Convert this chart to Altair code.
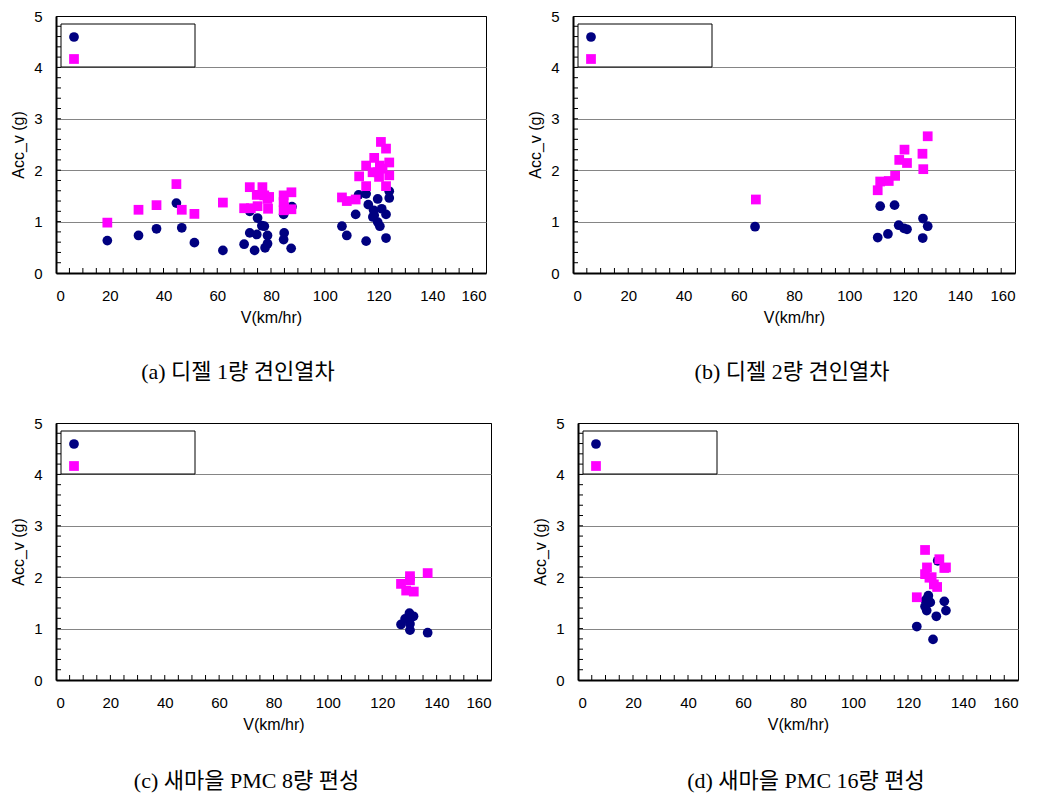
import altair as alt
import pandas as pd

# ---------------- data ----------------
A_circ_v = [19.1, 30.7, 37.4, 44.8, 46.8, 51.5, 62.1, 70.0, 72.1, 72.1, 73.9, 74.7, 75.0, 76.6, 77.5,
            77.8, 78.7, 78.7, 84.7, 84.7, 84.9, 87.5, 87.8, 106.4, 108.2, 111.5, 112.6, 115.4, 115.4,
            116.2, 117.9, 118.2, 118.4, 119.7, 119.7, 120.5, 121.2, 122.8, 122.8, 124.0, 124.0]
A_circ_a = [0.63, 0.73, 0.86, 1.36, 0.88, 0.59, 0.44, 0.56, 0.78, 1.20, 0.44, 0.75, 1.07, 0.92, 0.91,
            0.49, 0.57, 0.73, 1.14, 0.65, 0.78, 0.48, 1.29, 0.91, 0.73, 1.14, 1.52, 0.62, 1.54,
            1.33, 1.09, 1.22, 1.12, 1.44, 0.99, 0.91, 1.25, 0.68, 1.14, 1.59, 1.46]
A_sq_v = [19.1, 30.7, 37.4, 44.8, 46.8, 51.5, 62.1, 70.0, 72.1, 72.5, 74.7, 75.0, 76.8, 77.5, 78.7,
          78.9, 79.3, 84.7, 84.7, 84.9, 84.7, 87.6, 87.6, 106.4, 108.2, 111.5, 112.8, 115.4, 115.4,
          118.4, 117.8, 119.7, 120.5, 120.9, 120.2, 122.8, 122.8, 124.0, 124.0, 121.5]
A_sq_a = [0.98, 1.23, 1.32, 1.73, 1.23, 1.15, 1.37, 1.26, 1.67, 1.26, 1.52, 1.30, 1.67, 1.51, 1.44,
          1.25, 1.48, 1.51, 1.38, 1.28, 1.22, 1.57, 1.24, 1.47, 1.40, 1.43, 1.88, 2.09, 1.69,
          2.24, 1.96, 1.96, 2.09, 2.55, 1.87, 2.42, 1.69, 2.15, 1.90, 2.03]

B_circ_v = [65.9, 110.3, 111.2, 114.0, 116.4, 117.9, 119.8, 120.9, 126.7, 126.6, 128.4]
B_circ_a = [0.90, 0.69, 1.30, 0.76, 1.32, 0.93, 0.87, 0.85, 1.06, 0.68, 0.91]
B_sq_v = [66.2, 110.3, 111.2, 114.3, 116.6, 118.1, 120.0, 120.9, 126.5, 126.8, 128.4]
B_sq_a = [1.43, 1.61, 1.78, 1.79, 1.89, 2.20, 2.40, 2.14, 2.32, 2.02, 2.66]

C_circ_v = [126.9, 128.4, 130.0, 130.6, 131.5, 130.2, 130.2, 136.7]
C_circ_a = [1.08, 1.19, 1.30, 1.22, 1.24, 1.09, 0.97, 0.92]
C_sq_v = [126.9, 128.8, 130.2, 130.2, 131.6, 136.7]
C_sq_a = [1.87, 1.74, 2.02, 1.94, 1.72, 2.08]

D_circ_v = [123.2, 126.2, 126.8, 127.4, 128.1, 126.3, 129.1, 130.3, 130.8, 133.2, 133.8, 127.1]
D_circ_a = [1.04, 1.43, 1.35, 1.64, 1.51, 1.55, 0.79, 1.24, 2.32, 1.53, 1.35, 1.58]
D_sq_v = [123.2, 126.2, 126.9, 126.2, 127.8, 128.6, 129.4, 130.6, 131.4, 133.2, 133.8]
D_sq_a = [1.61, 2.53, 2.19, 2.06, 1.99, 2.00, 1.86, 1.81, 2.35, 2.18, 2.19]

captions = ["(a) 디젤 1량 견인열차", "(b) 디젤 2량 견인열차",
            "(c) 새마을 PMC 8량 편성", "(d) 새마을 PMC 16량 편성"]
series_names = ["S1", "S2"]
x_labels = [0, 20, 40, 60, 80, 100, 120, 140, 160]
y_labels = [0, 1, 2, 3, 4, 5]
x_minor = list(range(5, 160, 5))
y_minor = [round(0.2 * i, 1) for i in range(1, 25)]

# ---------------- styling ----------------
PLOT_H = 257
widths = [430, 442, 435, 440]
cap_dx = [-33, -2, -27, 8]
cap_off = [37, 37, 39, 39]
NAVY = "#000080"
MAGENTA = "#ff00ff"
SANS = "Liberation Sans"
CAP_FONT = "Liberation Serif, Noto Sans CJK KR"
TICK_COLOR = "black"

XSCALE = alt.Scale(domain=[0, 160], nice=False, zero=False)
YSCALE = alt.Scale(domain=[0, 5], nice=False, zero=False)
XAXIS = alt.Axis(values=x_labels, grid=False, ticks=False, tickSize=0,
                 labelPadding=15, titlePadding=6, domainWidth=2)
YAXIS = alt.Axis(values=y_labels, grid=True, ticks=False, tickSize=0,
                 labelPadding=14, titlePadding=7, domainWidth=2,
                 gridColor=alt.condition("datum.value == 5", alt.value("black"), alt.value("#858585")))


def xenc(field):
    return alt.X(field, type="quantitative", scale=XSCALE, title="V(km/hr)", axis=XAXIS)


def yenc(field):
    return alt.Y(field, type="quantitative", scale=YSCALE, title="Acc_v (g)", axis=YAXIS)


def panel(cv, ca, sv, sa, width, caption, dx, off):
    df = pd.DataFrame({
        "v": cv + sv,
        "acc": ca + sa,
        "series": [series_names[0]] * len(cv) + [series_names[1]] * len(sv),
        "order": list(range(len(cv) + len(sv))),
    })

    legend = alt.Legend(orient="none", legendX=13, legendY=16, title=None,
                        labelExpr="''", symbolSize=95, symbolStrokeWidth=0,
                        symbolOpacity=1, rowPadding=12, labelFontSize=1, padding=0)

    pts = alt.Chart(df).mark_point(filled=True, size=95, opacity=1, strokeWidth=0).encode(
        x=xenc("v"),
        y=yenc("acc"),
        color=alt.Color("series:N", scale=alt.Scale(domain=series_names, range=[NAVY, MAGENTA]),
                        legend=legend),
        shape=alt.Shape("series:N", scale=alt.Scale(domain=series_names, range=["circle", "square"]),
                        legend=legend),
        order=alt.Order("order:Q"),
    )

    box = alt.Chart(pd.DataFrame({"k": [0]})).mark_rect(
        fill="white", stroke="black", strokeWidth=1
    ).encode(x=alt.value(5), x2=alt.value(139), y=alt.value(8), y2=alt.value(51))

    xt = alt.Chart(pd.DataFrame({"xt": x_minor})).mark_rule(color=TICK_COLOR, strokeWidth=1).encode(
        x=xenc("xt"), y=alt.value(PLOT_H), y2=alt.value(PLOT_H - 5))
    yt = alt.Chart(pd.DataFrame({"yt": y_minor})).mark_rule(color=TICK_COLOR, strokeWidth=1).encode(
        y=yenc("yt"), x=alt.value(0), x2=alt.value(5))

    return alt.layer(pts, box, xt, yt).properties(
        width=width, height=PLOT_H,
        title=alt.TitleParams(caption, orient="bottom", offset=off, dx=dx,
                              font=CAP_FONT, fontSize=22, fontWeight="normal", color="black"),
    )


pa = panel(A_circ_v, A_circ_a, A_sq_v, A_sq_a, widths[0], captions[0], cap_dx[0], cap_off[0])
pb = panel(B_circ_v, B_circ_a, B_sq_v, B_sq_a, widths[1], captions[1], cap_dx[1], cap_off[1])
pc = panel(C_circ_v, C_circ_a, C_sq_v, C_sq_a, widths[2], captions[2], cap_dx[2], cap_off[2])
pd_ = panel(D_circ_v, D_circ_a, D_sq_v, D_sq_a, widths[3], captions[3], cap_dx[3], cap_off[3])


def indep(c):
    return c.resolve_scale(color="independent", shape="independent").resolve_legend(
        color="independent", shape="independent")


row1 = indep(alt.hconcat(pa, pb, spacing=40))
row2 = indep(alt.hconcat(pc, pd_, spacing=40))

chart = indep(alt.vconcat(row1, row2, spacing=31)).properties(
    padding={"left": 2, "top": 0, "right": 0, "bottom": 0}
).configure_view(stroke="black", strokeWidth=1).configure_axis(
    labelFont=SANS, titleFont=SANS, labelFontSize=15, titleFontSize=16,
    titleFontWeight="normal", labelColor="black", titleColor="black",
    domainColor="black",
).configure_title(anchor="middle")

chart.save("out.html", embed_options={"renderer": "svg", "actions": False})
